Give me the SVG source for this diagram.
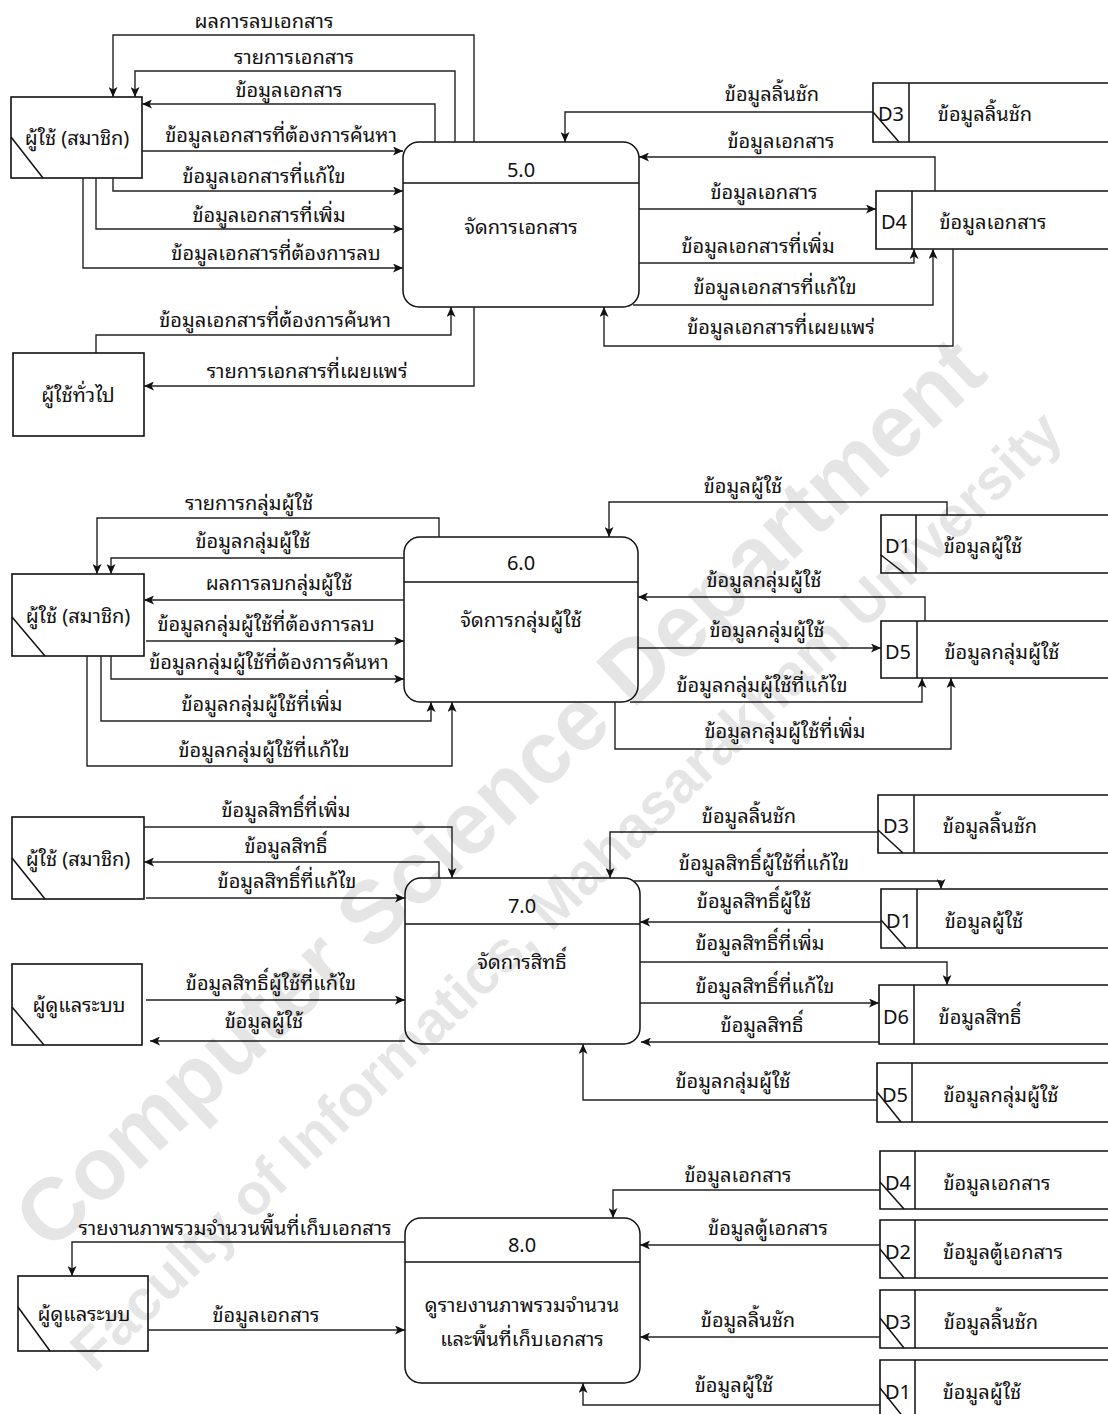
<svg xmlns="http://www.w3.org/2000/svg" width="1108" height="1414" viewBox="0 0 1108 1414">
  <defs>
    <marker id="arr" markerUnits="userSpaceOnUse" markerWidth="11" markerHeight="9" refX="10" refY="4.5" orient="auto">
      <path d="M0,0 L10,4.5 L0,9 L2.5,4.5 Z" fill="#111"/>
    </marker>
  </defs>
  <style>
    .t { font-family: Tahoma, "Noto Sans Thai Looped", Loma, Waree, "Noto Sans Thai", "Noto Sans", "DejaVu Sans", sans-serif; font-size: 20px; fill: #111; text-anchor: middle; }
    .box { fill: #fff; stroke: #111; stroke-width: 1.6; }
    .proc { fill: #fff; stroke: #111; stroke-width: 1.5; }
    .ln { fill: none; stroke: #111; stroke-width: 1.5; }
    .fl { fill: none; stroke: #222; stroke-width: 1.4; marker-end: url(#arr); }
    .wm { font-family: "Liberation Sans", Arial, sans-serif; font-weight: bold; fill: #000; fill-opacity: 0.1; text-anchor: middle; }
  </style>
  <rect width="1108" height="1414" fill="#fff"/>

  <!-- ===== 5.0 manage documents ===== -->
  <g id="member-5">
    <rect class="box" x="11" y="97" width="131" height="81"/>
    <line class="ln" x1="11" y1="137" x2="43" y2="178"/>
    <text class="t" x="77" y="145">ผู้ใช้ (สมาชิก)</text>
  </g>
  <g id="guest-5">
    <rect class="box" x="13" y="353" width="131" height="83"/>
    <text class="t" x="78" y="402">ผู้ใช้ทั่วไป</text>
  </g>
  <g id="proc-5">
    <rect class="proc" x="403" y="142" width="236" height="165" rx="16"/>
    <line class="ln" x1="403" y1="183" x2="639" y2="183"/>
    <text class="t" x="521" y="177">5.0</text>
    <text class="t" x="521" y="234">จัดการเอกสาร</text>
  </g>
  <g id="d3-5">
    <path class="box" d="M1112,83 H873 V142 H1112"/>
    <line class="ln" x1="909" y1="83" x2="909" y2="142"/>
    <line class="ln" x1="873" y1="112" x2="899" y2="142"/>
    <text class="t" x="891" y="121">D3</text>
    <text class="t" x="985" y="121">ข้อมูลลิ้นชัก</text>
  </g>
  <g id="d4-5">
    <path class="box" d="M1112,191 H876 V249 H1112"/>
    <line class="ln" x1="912" y1="191" x2="912" y2="249"/>
    <text class="t" x="894" y="229">D4</text>
    <text class="t" x="993" y="229">ข้อมูลเอกสาร</text>
  </g>

  <!-- ===== 6.0 manage user groups ===== -->
  <g id="member-6">
    <rect class="box" x="12" y="574" width="132" height="82"/>
    <line class="ln" x1="12" y1="617" x2="45" y2="656"/>
    <text class="t" x="78" y="623">ผู้ใช้ (สมาชิก)</text>
  </g>
  <g id="proc-6">
    <rect class="proc" x="404" y="537" width="234" height="165" rx="16"/>
    <line class="ln" x1="404" y1="582" x2="638" y2="582"/>
    <text class="t" x="521" y="570">6.0</text>
    <text class="t" x="521" y="627">จัดการกลุ่มผู้ใช้</text>
  </g>
  <g id="d1-6">
    <path class="box" d="M1112,515 H881 V573 H1112"/>
    <line class="ln" x1="916" y1="515" x2="916" y2="573"/>
    <line class="ln" x1="881" y1="555" x2="904" y2="573"/>
    <text class="t" x="898" y="553">D1</text>
    <text class="t" x="983" y="553">ข้อมูลผู้ใช้</text>
  </g>
  <g id="d5-6">
    <path class="box" d="M1112,621 H881 V678 H1112"/>
    <line class="ln" x1="917" y1="621" x2="917" y2="678"/>
    <text class="t" x="898" y="659">D5</text>
    <text class="t" x="1002" y="659">ข้อมูลกลุ่มผู้ใช้</text>
  </g>

  <!-- ===== 7.0 manage permissions ===== -->
  <g id="member-7">
    <rect class="box" x="12" y="817" width="132" height="82"/>
    <line class="ln" x1="12" y1="858" x2="45" y2="899"/>
    <text class="t" x="78" y="866">ผู้ใช้ (สมาชิก)</text>
  </g>
  <g id="admin-7">
    <rect class="box" x="12" y="964" width="130" height="81"/>
    <line class="ln" x1="12" y1="1007" x2="44" y2="1045"/>
    <text class="t" x="79" y="1012">ผู้ดูแลระบบ</text>
  </g>
  <g id="proc-7">
    <rect class="proc" x="405" y="878" width="235" height="166" rx="16"/>
    <line class="ln" x1="405" y1="924" x2="640" y2="924"/>
    <text class="t" x="522" y="913">7.0</text>
    <text class="t" x="522" y="969">จัดการสิทธิ์</text>
  </g>
  <g id="d3-7">
    <path class="box" d="M1112,795 H878 V853 H1112"/>
    <line class="ln" x1="914" y1="795" x2="914" y2="853"/>
    <line class="ln" x1="878" y1="830" x2="903" y2="853"/>
    <text class="t" x="896" y="833">D3</text>
    <text class="t" x="990" y="833">ข้อมูลลิ้นชัก</text>
  </g>
  <g id="d1-7">
    <path class="box" d="M1112,889 H881 V948 H1112"/>
    <line class="ln" x1="917" y1="889" x2="917" y2="948"/>
    <line class="ln" x1="881" y1="920" x2="906" y2="948"/>
    <text class="t" x="899" y="928">D1</text>
    <text class="t" x="984" y="928">ข้อมูลผู้ใช้</text>
  </g>
  <g id="d6-7">
    <path class="box" d="M1112,985 H879 V1044 H1112"/>
    <line class="ln" x1="914" y1="985" x2="914" y2="1044"/>
    <text class="t" x="896" y="1024">D6</text>
    <text class="t" x="980" y="1024">ข้อมูลสิทธิ์</text>
  </g>
  <g id="d5-7">
    <path class="box" d="M1112,1063 H877 V1122 H1112"/>
    <line class="ln" x1="912" y1="1063" x2="912" y2="1122"/>
    <line class="ln" x1="877" y1="1092" x2="901" y2="1122"/>
    <text class="t" x="895" y="1102">D5</text>
    <text class="t" x="1001" y="1102">ข้อมูลกลุ่มผู้ใช้</text>
  </g>

  <!-- ===== 8.0 storage overview report ===== -->
  <g id="admin-8">
    <rect class="box" x="18" y="1276" width="130" height="75"/>
    <line class="ln" x1="18" y1="1307" x2="50" y2="1351"/>
    <text class="t" x="84" y="1321">ผู้ดูแลระบบ</text>
  </g>
  <g id="proc-8">
    <rect class="proc" x="405" y="1218" width="235" height="165" rx="16"/>
    <line class="ln" x1="405" y1="1262" x2="640" y2="1262"/>
    <text class="t" x="522" y="1252">8.0</text>
    <text class="t" x="522" y="1312">ดูรายงานภาพรวมจำนวน</text>
    <text class="t" x="522" y="1346">และพื้นที่เก็บเอกสาร</text>
  </g>
  <g id="d4-8">
    <path class="box" d="M1112,1151 H880 V1209 H1112"/>
    <line class="ln" x1="915" y1="1151" x2="915" y2="1209"/>
    <line class="ln" x1="880" y1="1182" x2="904" y2="1209"/>
    <text class="t" x="898" y="1190">D4</text>
    <text class="t" x="997" y="1190">ข้อมูลเอกสาร</text>
  </g>
  <g id="d2-8">
    <path class="box" d="M1112,1220 H880 V1278 H1112"/>
    <line class="ln" x1="915" y1="1220" x2="915" y2="1278"/>
    <line class="ln" x1="880" y1="1249" x2="904" y2="1278"/>
    <text class="t" x="898" y="1259">D2</text>
    <text class="t" x="1003" y="1259">ข้อมูลตู้เอกสาร</text>
  </g>
  <g id="d3-8">
    <path class="box" d="M1112,1290 H880 V1348 H1112"/>
    <line class="ln" x1="915" y1="1290" x2="915" y2="1348"/>
    <line class="ln" x1="880" y1="1318" x2="904" y2="1348"/>
    <text class="t" x="898" y="1329">D3</text>
    <text class="t" x="991" y="1329">ข้อมูลลิ้นชัก</text>
  </g>
  <g id="d1-8">
    <path class="box" d="M1112,1360 H880 V1420 H1112"/>
    <line class="ln" x1="915" y1="1360" x2="915" y2="1420"/>
    <line class="ln" x1="880" y1="1388" x2="904" y2="1418"/>
    <text class="t" x="898" y="1399">D1</text>
    <text class="t" x="982" y="1399">ข้อมูลผู้ใช้</text>
  </g>

  <!-- ===== data flows ===== -->
  <g id="connectors">
    <!-- 5.0 -->
    <path class="fl" d="M474,142 V35 H113 V97"/>
    <text class="t" x="264" y="28">ผลการลบเอกสาร</text>
    <path class="fl" d="M455,142 V71 H135 V97"/>
    <text class="t" x="294" y="64">รายการเอกสาร</text>
    <path class="fl" d="M435,142 V104 H142"/>
    <text class="t" x="289" y="97">ข้อมูลเอกสาร</text>
    <path class="fl" d="M142,151 H403"/>
    <text class="t" x="281" y="142">ข้อมูลเอกสารที่ต้องการค้นหา</text>
    <path class="fl" d="M113,178 V191 H403"/>
    <text class="t" x="264" y="183">ข้อมูลเอกสารที่แก้ไข</text>
    <path class="fl" d="M96,178 V229 H403"/>
    <text class="t" x="269" y="222">ข้อมูลเอกสารที่เพิ่ม</text>
    <path class="fl" d="M83,178 V268 H403"/>
    <text class="t" x="276" y="260">ข้อมูลเอกสารที่ต้องการลบ</text>
    <path class="fl" d="M96,353 V335 H451 V307"/>
    <text class="t" x="275" y="327">ข้อมูลเอกสารที่ต้องการค้นหา</text>
    <path class="fl" d="M474,307 V386 H144"/>
    <text class="t" x="307" y="378">รายการเอกสารที่เผยแพร่</text>
    <path class="fl" d="M873,112 H565 V142"/>
    <text class="t" x="772" y="101">ข้อมูลลิ้นชัก</text>
    <path class="fl" d="M935,191 V157 H639"/>
    <text class="t" x="781" y="148">ข้อมูลเอกสาร</text>
    <path class="fl" d="M639,209 H876"/>
    <text class="t" x="764" y="199">ข้อมูลเอกสาร</text>
    <path class="fl" d="M639,263 H914 V249"/>
    <text class="t" x="758" y="253">ข้อมูลเอกสารที่เพิ่ม</text>
    <path class="fl" d="M633,305 H933 V249"/>
    <text class="t" x="775" y="294">ข้อมูลเอกสารที่แก้ไข</text>
    <path class="fl" d="M953,249 V346 H604 V307"/>
    <text class="t" x="781" y="334">ข้อมูลเอกสารที่เผยแพร่</text>

    <!-- 6.0 -->
    <path class="fl" d="M439,537 V518 H97 V574"/>
    <text class="t" x="249" y="510">รายการกลุ่มผู้ใช้</text>
    <path class="fl" d="M404,558 H111 V574"/>
    <text class="t" x="253" y="548">ข้อมูลกลุ่มผู้ใช้</text>
    <path class="fl" d="M404,600 H144"/>
    <text class="t" x="279" y="590">ผลการลบกลุ่มผู้ใช้</text>
    <path class="fl" d="M146,641 H404"/>
    <text class="t" x="266" y="631">ข้อมูลกลุ่มผู้ใช้ที่ต้องการลบ</text>
    <path class="fl" d="M111,656 V679 H404"/>
    <text class="t" x="269" y="669">ข้อมูลกลุ่มผู้ใช้ที่ต้องการค้นหา</text>
    <path class="fl" d="M101,656 V721 H431 V702"/>
    <text class="t" x="262" y="711">ข้อมูลกลุ่มผู้ใช้ที่เพิ่ม</text>
    <path class="fl" d="M87,656 V766 H452 V702"/>
    <text class="t" x="264" y="757">ข้อมูลกลุ่มผู้ใช้ที่แก้ไข</text>
    <path class="fl" d="M947,515 V502 H609 V537"/>
    <text class="t" x="743" y="493">ข้อมูลผู้ใช้</text>
    <path class="fl" d="M925,621 V597 H638"/>
    <text class="t" x="764" y="587">ข้อมูลกลุ่มผู้ใช้</text>
    <path class="fl" d="M638,648 H881"/>
    <text class="t" x="767" y="637">ข้อมูลกลุ่มผู้ใช้</text>
    <path class="fl" d="M630,702 H922 V678"/>
    <text class="t" x="762" y="692">ข้อมูลกลุ่มผู้ใช้ที่แก้ไข</text>
    <path class="fl" d="M615,702 V749 H951 V678"/>
    <text class="t" x="785" y="738">ข้อมูลกลุ่มผู้ใช้ที่เพิ่ม</text>

    <!-- 7.0 -->
    <path class="fl" d="M144,827 H452 V878"/>
    <text class="t" x="286" y="817">ข้อมูลสิทธิ์ที่เพิ่ม</text>
    <path class="fl" d="M439,878 V862 H144"/>
    <text class="t" x="286" y="853">ข้อมูลสิทธิ์</text>
    <path class="fl" d="M146,898 H405"/>
    <text class="t" x="287" y="888">ข้อมูลสิทธิ์ที่แก้ไข</text>
    <path class="fl" d="M146,1000 H405"/>
    <text class="t" x="271" y="990">ข้อมูลสิทธิ์ผู้ใช้ที่แก้ไข</text>
    <path class="fl" d="M405,1041 H150"/>
    <text class="t" x="264" y="1028">ข้อมูลผู้ใช้</text>
    <path class="fl" d="M878,832 H610 V878"/>
    <text class="t" x="749" y="823">ข้อมูลลิ้นชัก</text>
    <path class="fl" d="M634,881 H941 V889"/>
    <text class="t" x="764" y="870">ข้อมูลสิทธิ์ผู้ใช้ที่แก้ไข</text>
    <path class="fl" d="M881,922 H640"/>
    <text class="t" x="754" y="908">ข้อมูลสิทธิ์ผู้ใช้</text>
    <path class="fl" d="M640,962 H947 V985"/>
    <text class="t" x="760" y="950">ข้อมูลสิทธิ์ที่เพิ่ม</text>
    <path class="fl" d="M640,1003 H879"/>
    <text class="t" x="765" y="993">ข้อมูลสิทธิ์ที่แก้ไข</text>
    <path class="fl" d="M879,1042 H641"/>
    <text class="t" x="762" y="1032">ข้อมูลสิทธิ์</text>
    <path class="fl" d="M877,1100 H583 V1044"/>
    <text class="t" x="733" y="1088">ข้อมูลกลุ่มผู้ใช้</text>

    <!-- 8.0 -->
    <path class="fl" d="M405,1242 H72 V1276"/>
    <text class="t" x="235" y="1235">รายงานภาพรวมจำนวนพื้นที่เก็บเอกสาร</text>
    <path class="fl" d="M148,1330 H405"/>
    <text class="t" x="266" y="1322">ข้อมูลเอกสาร</text>
    <path class="fl" d="M880,1190 H613 V1218"/>
    <text class="t" x="738" y="1182">ข้อมูลเอกสาร</text>
    <path class="fl" d="M880,1245 H640"/>
    <text class="t" x="768" y="1235">ข้อมูลตู้เอกสาร</text>
    <path class="fl" d="M880,1337 H640"/>
    <text class="t" x="748" y="1327">ข้อมูลลิ้นชัก</text>
    <path class="fl" d="M880,1405 H583 V1383"/>
    <text class="t" x="734" y="1392">ข้อมูลผู้ใช้</text>
  </g>

  <!-- page watermark -->
  <g id="watermark">
    <text class="wm" font-size="88" transform="translate(520,815) rotate(-43)">Computer Science Department</text>
    <text class="wm" font-size="58" transform="translate(580,905) rotate(-44)">Faculty of Informatics, Mahasarakham University</text>
  </g>
</svg>
